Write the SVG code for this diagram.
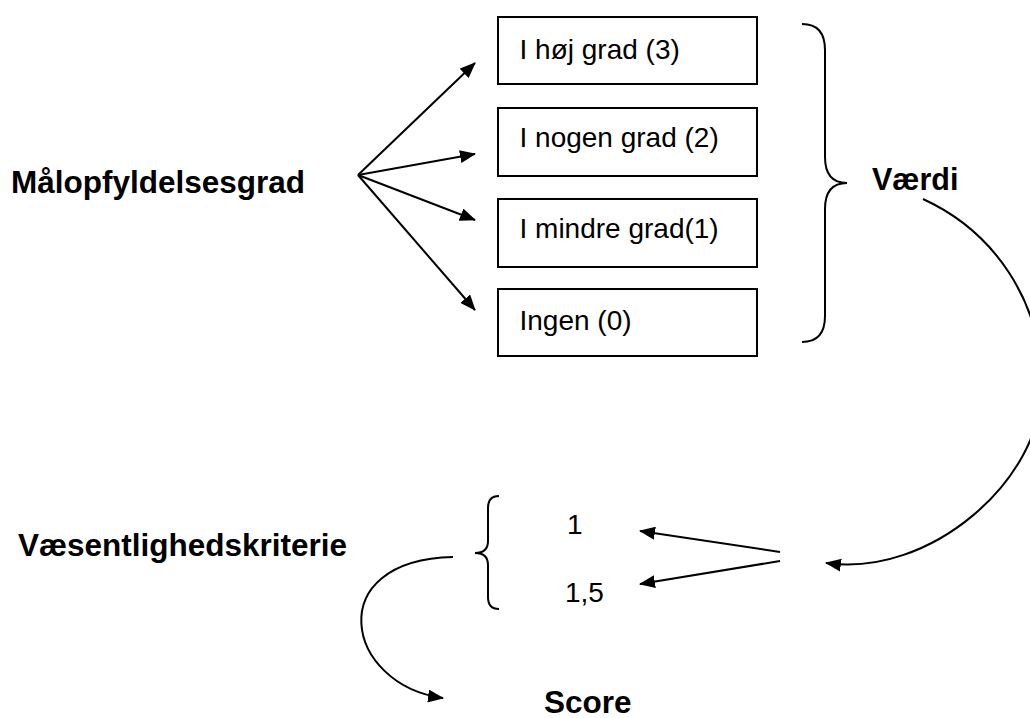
<svg xmlns="http://www.w3.org/2000/svg" width="1030" height="718" viewBox="0 0 1030 718">
<style>
  .bold { font-family: "Liberation Sans", Arial, sans-serif; font-weight: bold; font-size: 31.5px; fill: #000; }
  .reg { font-family: "Liberation Sans", Arial, sans-serif; font-size: 28px; fill: #000; }
  .box { fill: #fff; stroke: #000; stroke-width: 2; }
  .line { fill: none; stroke: #000; stroke-width: 2; }
  .brace { fill: none; stroke: #000; stroke-width: 2; }
</style>
<defs>
  <marker id="ah" markerWidth="16" markerHeight="13" refX="15" refY="6.5" orient="auto" markerUnits="userSpaceOnUse">
    <path d="M0,0 L16,6.5 L0,13 z" fill="#000"/>
  </marker>
</defs>
<rect width="1030" height="718" fill="#fff"/>

<g id="maalopfyldelsesgrad">
  <text class="bold" x="11" y="193">Målopfyldelsesgrad</text>
</g>

<g id="box-hoej">
  <rect class="box" x="498" y="17" width="259" height="67"/>
  <text class="reg" x="519.5" y="59">I høj grad (3)</text>
</g>
<g id="box-nogen">
  <rect class="box" x="498" y="108" width="259" height="68"/>
  <text class="reg" x="519.5" y="147">I nogen grad (2)</text>
</g>
<g id="box-mindre">
  <rect class="box" x="498" y="199" width="259" height="68"/>
  <text class="reg" x="519.5" y="238">I mindre grad(1)</text>
</g>
<g id="box-ingen">
  <rect class="box" x="498" y="289" width="259" height="67"/>
  <text class="reg" x="519.5" y="330">Ingen (0)</text>
</g>

<g id="vaerdi">
  <path class="brace" d="M802,24 Q825,24 825,50 L825,157 Q825,183 847,183 Q825,183 825,209 L825,316 Q825,342 802,342"/>
  <text class="bold" x="872" y="190" style="font-size:30.5px">Værdi</text>
</g>

<g id="vaesentlighedskriterie">
  <text class="bold" x="18" y="556">Væsentlighedskriterie</text>
</g>

<g id="vaegte">
  <path class="brace" d="M499,496 Q488,496 488,508 L488,541 Q488,553 475,553 Q488,553 488,565 L488,597 Q488,609 499,609"/>
  <text class="reg" x="567" y="534">1</text>
  <text class="reg" x="565" y="602">1,5</text>
</g>

<g id="score">
  <text class="bold" x="544" y="713">Score</text>
</g>

<g id="connectors">
  <line class="line" x1="358" y1="175" x2="475" y2="63" marker-end="url(#ah)"/>
  <line class="line" x1="358" y1="175" x2="475" y2="154" marker-end="url(#ah)"/>
  <line class="line" x1="358" y1="175" x2="475" y2="220" marker-end="url(#ah)"/>
  <line class="line" x1="358" y1="175" x2="475" y2="310" marker-end="url(#ah)"/>
  <path class="line" d="M923,199 C993,231 1042,300 1042,386 C1042,480 930,578 826,563" marker-end="url(#ah)"/>
  <line class="line" x1="780" y1="552" x2="640" y2="531" marker-end="url(#ah)"/>
  <line class="line" x1="780" y1="561" x2="640" y2="584" marker-end="url(#ah)"/>
  <path class="line" d="M453,557 C320,560 345,685 443,698" marker-end="url(#ah)"/>
</g>
</svg>
